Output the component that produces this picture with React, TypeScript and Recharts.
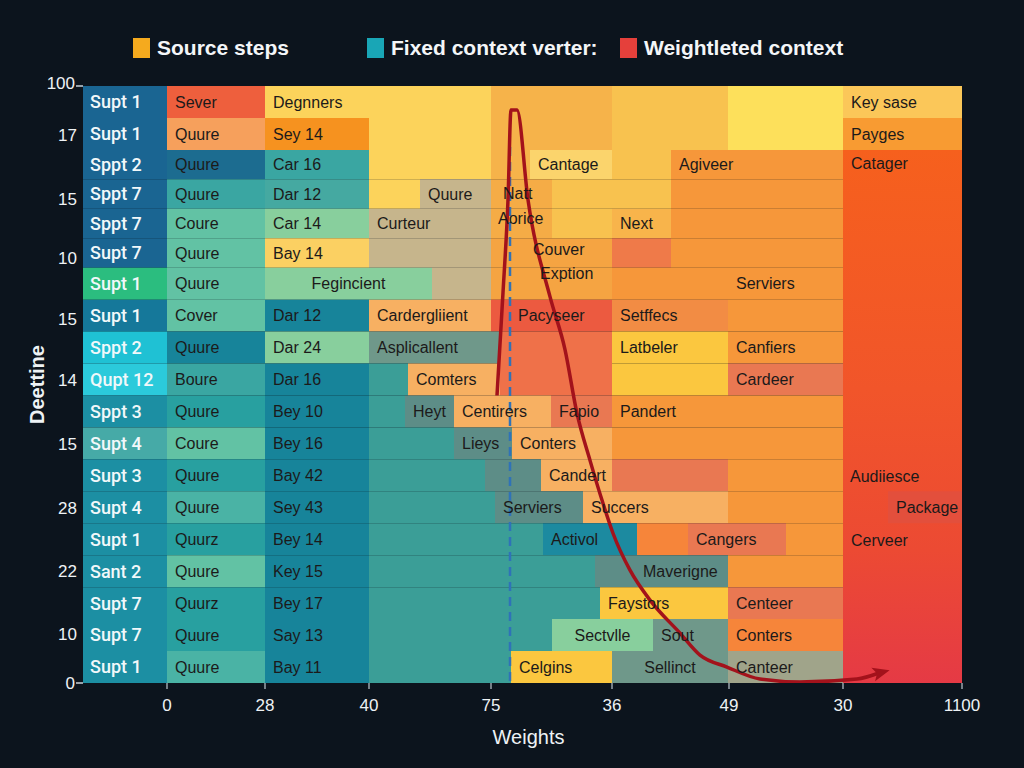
import React from 'react';
import {
  ComposedChart,
  XAxis,
  YAxis,
  Line,
  ReferenceArea,
  ReferenceLine,
  ReferenceDot,
  Legend,
} from 'recharts';

// ---- data ---------------------------------------------------------------

// Step names down the left edge, top to bottom
const STEP_NAMES = [
  'Supt 1', 'Supt 1', 'Sppt 2', 'Sppt 7', 'Sppt 7', 'Supt 7', 'Supt 1', 'Supt 1',
  'Sppt 2', 'Qupt 12', 'Sppt 3', 'Supt 4', 'Supt 3', 'Supt 4', 'Supt 1', 'Sant 2',
  'Supt 7', 'Supt 7', 'Supt 1',
];
// Colour key of each step cell
const STEP_TONES = [
  'navy', 'navy', 'navy', 'navy', 'navy', 'navy', 'emerald', 'steel',
  'cyan', 'cyanLight', 'step', 'stepLight', 'step', 'step', 'step', 'step',
  'step', 'step', 'step',
];
// Depth covered by each row, top to bottom
const ROW_SPANS = [3.2, 3.2, 2.95, 2.95, 2.95, 2.95, 3.2, 3.2, 3.2, 3.2, 3.2, 3.2, 3.2, 3.2, 3.2, 3.2, 3.2, 3.2, 3.2];

const WEIGHT_MAX = 87.9;
const WEIGHT_TICKS = [8.4, 18.2, 28.6, 40.8, 52.9, 64.6, 76.0, 87.9];
const WEIGHT_TICK_LABELS = ['0', '28', '40', '75', '36', '49', '30', '1100'];
const DEPTH_TICKS = [0, 4.9, 11.3, 17.2, 23.3, 29.5, 35.9, 42.3, 48.6, 54.9, 59.8];
const DEPTH_TICK_LABELS = ['100', '17', '15', '10', '15', '14', '15', '28', '22', '10', '0'];

// [row, weight from, weight to, tone, label, rows spanned]
type Cell = [number, number, number, string, string?, number?];
const CELLS: Cell[] = [
  [0, 8.4, 18.2, 'flame', 'Sever'],
  [0, 18.2, 28.6, 'sun', 'Degnners'],
  [0, 28.6, 40.8, 'sun', '', 3],
  [0, 40.8, 52.9, 'amber', '', 2],
  [0, 52.9, 64.5, 'honey', '', 2],
  [0, 64.5, 76.0, 'lemon', '', 2],
  [0, 76.0, 87.9, 'honeyLight', 'Key sase'],

  [1, 8.4, 18.2, 'peach', 'Quure'],
  [1, 18.2, 28.6, 'tangerine', 'Sey 14'],
  [1, 76.0, 87.9, 'orangeBright', 'Payges'],

  [2, 8.4, 18.2, 'deepBlue', 'Quure'],
  [2, 18.2, 28.6, 'teal', 'Car 16'],
  [2, 40.8, 44.7, 'amber'],
  [2, 44.7, 52.9, 'cream', 'Cantage'],
  [2, 52.9, 58.8, 'honey'],
  [2, 58.8, 76.0, 'orange', 'Agiveer'],
  [2, 76.0, 87.9, 'heat', 'Catager', 17],

  [3, 8.4, 18.2, 'teal', 'Quure'],
  [3, 18.2, 28.6, 'tealSoft', 'Dar 12'],
  [3, 28.6, 33.7, 'sun'],
  [3, 33.7, 40.8, 'tan', 'Quure'],
  [3, 40.8, 46.9, 'amberDeep'],
  [3, 46.9, 58.8, 'honey'],
  [3, 58.8, 76.0, 'orange'],

  [4, 8.4, 18.2, 'mint', 'Coure'],
  [4, 18.2, 28.6, 'mintLight', 'Car 14'],
  [4, 28.6, 40.8, 'tan', 'Curteur'],
  [4, 40.8, 46.9, 'amberDeep'],
  [4, 46.9, 52.9, 'honey'],
  [4, 52.9, 58.8, 'apricot', 'Next'],
  [4, 58.8, 76.0, 'orange'],

  [5, 8.4, 18.2, 'mint', 'Quure'],
  [5, 18.2, 28.6, 'sunSoft', 'Bay 14'],
  [5, 28.6, 40.8, 'tan'],
  [5, 40.8, 52.9, 'orangeSoft'],
  [5, 52.9, 58.8, 'coral'],
  [5, 58.8, 76.0, 'orange'],

  [6, 8.4, 18.2, 'mint', 'Quure'],
  [6, 18.2, 34.9, 'mintLight', 'Fegincient'],
  [6, 34.9, 40.8, 'tan'],
  [6, 40.8, 52.9, 'orangeSoft'],
  [6, 52.9, 64.5, 'orange'],
  [6, 64.5, 76.0, 'orange', 'Serviers'],

  [7, 8.4, 18.2, 'mint', 'Cover'],
  [7, 18.2, 28.6, 'petrol', 'Dar 12'],
  [7, 28.6, 40.8, 'apricotLight', 'Cardergliient'],
  [7, 40.8, 42.7, 'scarlet'],
  [7, 42.7, 52.9, 'scarlet', 'Pacyseer'],
  [7, 52.9, 64.5, 'orangeCoral', 'Setffecs'],
  [7, 64.5, 76.0, 'orange'],

  [8, 8.4, 18.2, 'petrol', 'Quure'],
  [8, 18.2, 28.6, 'mintLight', 'Dar 24'],
  [8, 28.6, 41.7, 'slate', 'Asplicallent'],
  [8, 41.7, 52.9, 'coralSoft', '', 2],
  [8, 52.9, 64.5, 'gold', 'Latbeler'],
  [8, 64.5, 76.0, 'orange', 'Canfiers'],

  [9, 8.4, 18.2, 'teal', 'Boure'],
  [9, 18.2, 28.6, 'petrol', 'Dar 16'],
  [9, 28.6, 32.5, 'lagoon'],
  [9, 32.5, 41.7, 'apricotLight', 'Comters'],
  [9, 52.9, 64.5, 'gold'],
  [9, 64.5, 76.0, 'salmon', 'Cardeer'],

  [10, 8.4, 18.2, 'tealDeep', 'Quure'],
  [10, 18.2, 28.6, 'petrol', 'Bey 10'],
  [10, 28.6, 32.2, 'lagoon'],
  [10, 32.2, 37.1, 'slateDark', 'Heyt'],
  [10, 37.1, 46.8, 'apricotLight', 'Centirers'],
  [10, 46.8, 52.9, 'salmon', 'Fapio'],
  [10, 52.9, 76.0, 'orange', 'Pandert'],

  [11, 8.4, 18.2, 'mint', 'Coure'],
  [11, 18.2, 28.6, 'petrol', 'Bey 16'],
  [11, 28.6, 37.1, 'lagoon'],
  [11, 37.1, 42.9, 'slateDark', 'Lieys'],
  [11, 42.9, 52.9, 'apricotLight', 'Conters'],
  [11, 52.9, 76.0, 'orange'],

  [12, 8.4, 18.2, 'tealDeep', 'Quure'],
  [12, 18.2, 28.6, 'petrol', 'Bay 42'],
  [12, 28.6, 40.2, 'lagoon'],
  [12, 40.2, 45.8, 'slateDark'],
  [12, 45.8, 52.9, 'apricotLight', 'Candert'],
  [12, 52.9, 64.5, 'salmon'],
  [12, 64.5, 76.0, 'orange'],

  [13, 8.4, 18.2, 'mintDeep', 'Quure'],
  [13, 18.2, 28.6, 'petrol', 'Sey 43'],
  [13, 28.6, 41.2, 'lagoon'],
  [13, 41.2, 50.0, 'slateDark', 'Serviers'],
  [13, 50.0, 64.5, 'apricotLight', 'Succers'],
  [13, 64.5, 76.0, 'orange'],
  [13, 80.5, 87.9, 'crimson', 'Package'],

  [14, 8.4, 18.2, 'tealDeep', 'Quurz'],
  [14, 18.2, 28.6, 'petrol', 'Bey 14'],
  [14, 28.6, 46.0, 'lagoon'],
  [14, 46.0, 55.4, 'ocean', 'Activol'],
  [14, 55.4, 60.5, 'orangeDeep'],
  [14, 60.5, 70.3, 'salmon', 'Cangers'],
  [14, 70.3, 76.0, 'orange'],

  [15, 8.4, 18.2, 'mint', 'Quure'],
  [15, 18.2, 28.6, 'petrol', 'Key 15'],
  [15, 28.6, 51.2, 'lagoon'],
  [15, 51.2, 55.2, 'slateDark'],
  [15, 55.2, 64.5, 'slateDark', 'Maverigne'],
  [15, 64.5, 76.0, 'orange'],

  [16, 8.4, 18.2, 'tealDeep', 'Quurz'],
  [16, 18.2, 28.6, 'petrol', 'Bey 17'],
  [16, 28.6, 51.7, 'lagoon'],
  [16, 51.7, 64.5, 'gold', 'Faystors'],
  [16, 64.5, 76.0, 'salmon', 'Centeer'],

  [17, 8.4, 18.2, 'tealDeep', 'Quure'],
  [17, 18.2, 28.6, 'petrol', 'Say 13'],
  [17, 28.6, 46.9, 'lagoon'],
  [17, 46.9, 57.0, 'mintLight', 'Sectvlle'],
  [17, 57.0, 64.5, 'slate', 'Sout'],
  [17, 64.5, 76.0, 'orangeDeep', 'Conters'],

  [18, 8.4, 18.2, 'mintDeep', 'Quure'],
  [18, 18.2, 28.6, 'petrol', 'Bay 11'],
  [18, 28.6, 42.8, 'lagoon'],
  [18, 42.8, 52.9, 'gold', 'Celgins'],
  [18, 52.9, 64.5, 'slate', 'Sellinct'],
  [18, 64.5, 76.0, 'sage', 'Canteer'],
];

// Labels written across the cells rather than inside one
const NOTES = [
  { w: 42.0, d: 10.7, text: 'Natt' },
  { w: 41.5, d: 13.3, text: 'Aorice' },
  { w: 45.0, d: 16.4, text: 'Couver' },
  { w: 45.7, d: 18.8, text: 'Exption' },
  { w: 76.7, d: 39.1, text: 'Audiiesce' },
  { w: 76.8, d: 45.5, text: 'Cerveer' },
];

// Weight trail drawn over the grid
const TRAIL = [
  { w: 41.4, d: 31.0 },
  { w: 42.0, d: 20.7 },
  { w: 42.5, d: 11.4 },
  { w: 42.8, d: 2.4 },
  { w: 43.4, d: 2.4 },
  { w: 44.5, d: 11.4 },
  { w: 46.7, d: 21.1 },
  { w: 48.2, d: 26.4 },
  { w: 49.4, d: 32.8 },
  { w: 50.7, d: 37.5 },
  { w: 52.0, d: 41.8 },
  { w: 53.0, d: 44.8 },
  { w: 54.7, d: 48.5 },
  { w: 56.7, d: 51.5 },
  { w: 59.7, d: 54.8 },
  { w: 61.7, d: 57.0 },
  { w: 64.4, d: 58.2 },
  { w: 67.7, d: 59.4 },
  { w: 71.7, d: 59.7 },
  { w: 77.4, d: 59.4 },
  { w: 79.6, d: 58.8 },
];

const CONTEXT_WEIGHT = 42.7;
const CONTEXT_FROM_DEPTH = 6.1;

const LEGEND_ITEMS = [
  { label: 'Source steps', color: '#f5aa1e' },
  { label: 'Fixed context verter:', color: '#19a6b6' },
  { label: 'Weightleted context', color: '#e5403b' },
];

// ---- styling --------------------------------------------------------------

const TONES: Record<string, string> = {
  navy: '#1a6592',
  emerald: '#2bbd7f',
  steel: '#15789a',
  cyan: '#1fc1d4',
  cyanLight: '#2bcadb',
  step: '#1c8fa3',
  stepLight: '#46aaa7',
  flame: '#ee5f3d',
  sun: '#fcd35b',
  amber: '#f6b34a',
  honey: '#f8c24f',
  lemon: '#fde05b',
  honeyLight: '#fbc759',
  peach: '#f6a05c',
  tangerine: '#f6921f',
  orangeBright: '#f89b32',
  deepBlue: '#1c6c90',
  teal: '#3aa6a2',
  tealSoft: '#45a9a1',
  cream: '#fbd46c',
  orange: '#f6973a',
  tan: '#c6b58c',
  amberDeep: '#f5ac46',
  mint: '#62c2a4',
  mintLight: '#88cf9d',
  apricot: '#f8b44b',
  sunSoft: '#fbd062',
  orangeSoft: '#f5a442',
  coral: '#ef7a49',
  petrol: '#17849a',
  apricotLight: '#f7b062',
  scarlet: '#ec5a40',
  orangeCoral: '#f28c44',
  slate: '#6f988a',
  coralSoft: '#ef7149',
  gold: '#fbc73f',
  salmon: '#e97852',
  lagoon: '#3b9e97',
  slateDark: '#5d8d87',
  tealDeep: '#28a0a0',
  mintDeep: '#4ab3a5',
  ocean: '#1c8aa0',
  orangeDeep: '#f6853a',
  sage: '#a0a48a',
  crimson: '#e34f3c',
  heat: 'url(#heatFade)',
};

const CENTERED = new Set(['Fegincient', 'Heyt', 'Sectvlle', 'Sellinct']);

const FONT = "'Liberation Sans', Arial, sans-serif";
const STEP_FONT = "Roboto, 'Liberation Sans', Arial, sans-serif";
const INK = '#1c1a1a';
const PAPER = '#0c141d';
const TRAIL_RED = '#a3121b';

const ROW_EDGES = ROW_SPANS.reduce<number[]>((acc, s) => [...acc, acc[acc.length - 1] + s], [0]);
const DEPTH_MAX = ROW_EDGES[ROW_EDGES.length - 1];

const DepthTick = (props: any) => {
  const { x, y, index } = props;
  const edge = index === 0 || index === DEPTH_TICK_LABELS.length - 1;
  return (
    <g>
      {edge && <line x1={x - 1} x2={x + 6} y1={y} y2={y} stroke="#c9d2da" strokeWidth={1.5} />}
      <text
        x={edge ? x - 2 : x}
        y={index === 0 ? y - 3 : y}
        dy="0.35em"
        textAnchor="end"
        fill="#eef2f5"
        fontSize={17}
        fontFamily={FONT}
      >
        {DEPTH_TICK_LABELS[index]}
      </text>
    </g>
  );
};

const renderArrowHead = (props: any) => {
  const { cx, cy, index, points } = props;
  if (index !== TRAIL.length - 1) return <g key={`pt-${index}`} />;
  let angle = -12;
  if (Array.isArray(points) && points.length > 1) {
    const prev = points[points.length - 2];
    angle = (Math.atan2(cy - prev.y, cx - prev.x) * 180) / Math.PI;
  }
  return (
    <path
      key="arrow-head"
      d="M -6 -7 L 11 0 L -6 7 L -2 0 Z"
      transform={`translate(${cx},${cy}) rotate(${angle})`}
      fill={TRAIL_RED}
    />
  );
};

const LegendRow = () => {
  const lefts = [133, 367, 620];
  return (
    <div style={{ position: 'relative', height: 36, width: 1024 }}>
      {LEGEND_ITEMS.map((item, i) => (
        <div
          key={item.label}
          style={{
            position: 'absolute',
            left: lefts[i],
            top: 0,
            height: 36,
            display: 'flex',
            alignItems: 'center',
          }}
        >
          <span style={{ width: 17, height: 20, background: item.color, display: 'inline-block' }} />
          <span
            style={{
              marginLeft: 7,
              color: '#f4f6f8',
              fontFamily: FONT,
              fontWeight: 700,
              fontSize: 21,
              whiteSpace: 'nowrap',
            }}
          >
            {item.label}
          </span>
        </div>
      ))}
    </div>
  );
};

const cellLabel = (text: string | undefined, span: number | undefined) => {
  if (!text) return undefined;
  return {
    value: text,
    position: span ? 'insideTopLeft' : CENTERED.has(text) ? 'center' : 'insideLeft',
    offset: 8,
    fill: INK,
    fontSize: 16,
    fontFamily: FONT,
  };
};

export default function App() {
  return (
    <div
      style={{
        position: 'absolute',
        left: 0,
        top: 0,
        width: 1024,
        height: 768,
        background: PAPER,
        overflow: 'hidden',
      }}
    >
      <ComposedChart
        width={1024}
        height={768}
        data={TRAIL}
        margin={{ top: 86, right: 62, bottom: 0, left: 23 }}
      >
        <defs>
          <linearGradient id="heatFade" x1="0" y1="0" x2="0" y2="1">
            <stop offset="0%" stopColor="#f6601d" />
            <stop offset="45%" stopColor="#f1552a" />
            <stop offset="75%" stopColor="#ec4a33" />
            <stop offset="100%" stopColor="#e53a45" />
          </linearGradient>
        </defs>
        <XAxis
          type="number"
          dataKey="w"
          domain={[0, WEIGHT_MAX]}
          allowDataOverflow
          ticks={WEIGHT_TICKS}
          interval={0}
          tickFormatter={(_v: number, i: number) => WEIGHT_TICK_LABELS[i]}
          height={85}
          axisLine={false}
          tickLine={{ stroke: '#9aa4ad', strokeWidth: 1.5 }}
          tickSize={6}
          tickMargin={10}
          tick={{ fill: '#eef2f5', fontSize: 17, fontFamily: FONT }}
          label={{
            value: 'Weights',
            position: 'insideBottom',
            offset: 24,
            dx: 6,
            fill: '#eef2f5',
            fontSize: 20,
            fontFamily: FONT,
          }}
        />
        <YAxis
          type="number"
          domain={[0, DEPTH_MAX]}
          allowDataOverflow
          reversed
          ticks={DEPTH_TICKS}
          interval={0}
          width={60}
          axisLine={false}
          tickLine={false}
          tickSize={6}
          tickMargin={0}
          tick={<DepthTick />}
          label={{
            value: 'Deettine',
            angle: -90,
            position: 'insideLeft',
            offset: 14,
            style: { textAnchor: 'middle' },
            fill: '#eef2f5',
            fontSize: 20,
            fontWeight: 700,
            fontFamily: FONT,
          }}
        />
        <Legend
          verticalAlign="middle"
          layout="horizontal"
          wrapperStyle={{ top: 30, left: 0, width: 1024, height: 36 }}
          content={() => <LegendRow />}
        />

        {STEP_NAMES.map((name, r) => (
          <ReferenceArea
            key={`step-${r}`}
            x1={0}
            x2={8.4}
            y1={ROW_EDGES[r]}
            y2={ROW_EDGES[r + 1]}
            fill={TONES[STEP_TONES[r]]}
            fillOpacity={1}
            stroke="none"
            label={{
              value: name,
              position: 'insideLeft',
              offset: 7,
              fill: '#f2f8fa',
              fontSize: 18,
              fontWeight: 500,
              fontFamily: STEP_FONT,
            }}
          />
        ))}

        {CELLS.map(([row, from, to, tone, text, span], i) => (
          <ReferenceArea
            key={`cell-${row}-${from}-${to}-${i}`}
            x1={from}
            x2={to}
            y1={ROW_EDGES[row]}
            y2={ROW_EDGES[Math.min(row + (span ?? 1), ROW_EDGES.length - 1)]}
            fill={TONES[tone]}
            fillOpacity={1}
            stroke="none"
            label={cellLabel(text, text && span && span > 2 ? span : undefined) as any}
          />
        ))}

        {NOTES.map((n) => (
          <ReferenceDot
            key={`note-${n.text}`}
            x={n.w}
            y={n.d}
            r={0}
            fill="none"
            stroke="none"
            label={{
              value: n.text,
              position: 'right',
              offset: 0,
              fill: INK,
              fontSize: 16,
              fontFamily: FONT,
            }}
          />
        ))}

        <ReferenceLine
          segment={[
            { x: CONTEXT_WEIGHT, y: CONTEXT_FROM_DEPTH },
            { x: CONTEXT_WEIGHT, y: DEPTH_MAX },
          ]}
          stroke="#2f72b8"
          strokeWidth={2.5}
          strokeDasharray="9 6"
        />

        <Line
          dataKey="d"
          type="monotone"
          stroke={TRAIL_RED}
          strokeWidth={3.5}
          dot={renderArrowHead}
          activeDot={false}
          legendType="none"
          isAnimationActive={false}
        />
      </ComposedChart>
    </div>
  );
}
